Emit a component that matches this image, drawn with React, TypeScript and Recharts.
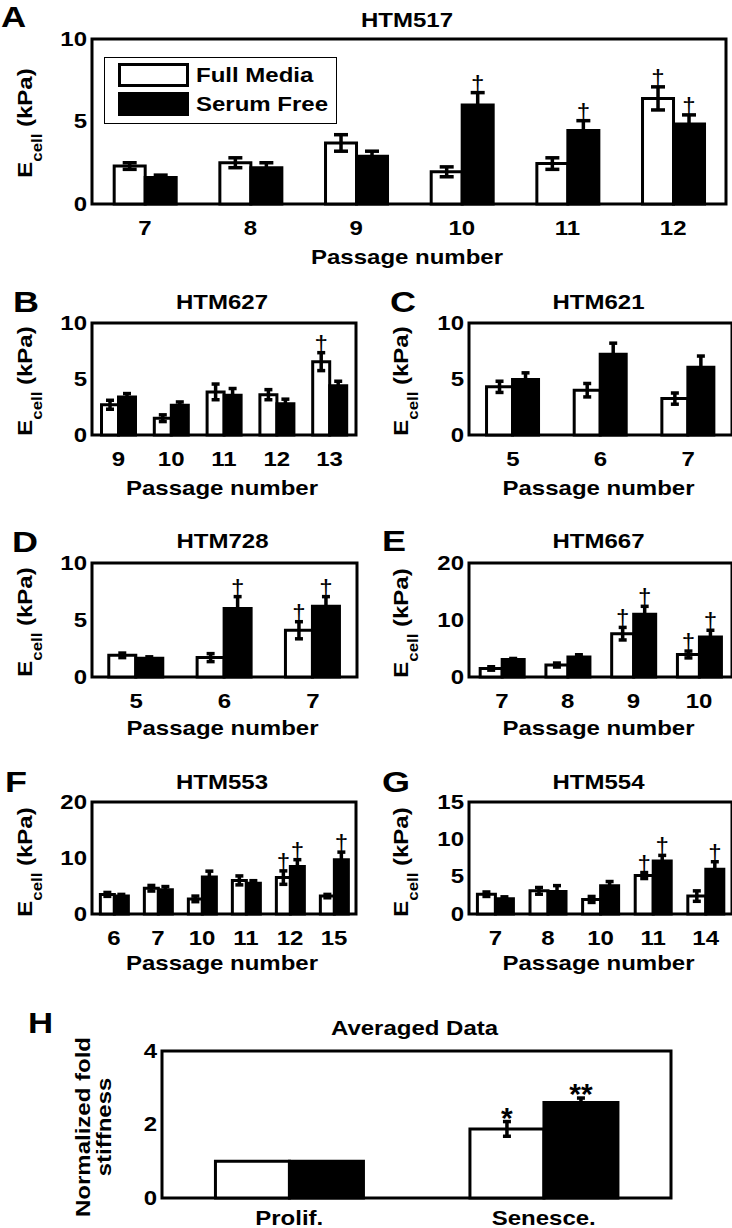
import { BarChart, Bar, XAxis, YAxis, ErrorBar, LabelList, Legend, ReferenceArea } from 'recharts';

const FONT = '"Liberation Sans", Arial, Helvetica, sans-serif';
const SX = 1.2; // the figure's lettering is a little wider than plain Arial

// A - HTM517
const aPassages = ['7', '8', '9', '10', '11', '12'];
const aFull = [2.3, 2.5, 3.7, 1.95, 2.45, 6.4];
const aFullErr = [0.2, 0.3, 0.5, 0.3, 0.35, 0.7];
const aSerum = [1.6, 2.2, 2.9, 6.0, 4.45, 4.85];
const aSerumErr = [0.15, 0.3, 0.3, 0.75, 0.6, 0.55];
const aFullMark = ['', '', '', '', '', '†'];
const aSerumMark = ['', '', '', '†', '†', '†'];

// B - HTM627
const bPassages = ['9', '10', '11', '12', '13'];
const bFull = [2.7, 1.5, 3.85, 3.6, 6.55];
const bFullErr = [0.4, 0.3, 0.7, 0.45, 0.8];
const bSerum = [3.4, 2.65, 3.55, 2.8, 4.4];
const bSerumErr = [0.3, 0.3, 0.6, 0.4, 0.4];
const bFullMark = ['', '', '', '', '†'];
const bSerumMark = ['', '', '', '', ''];

// C - HTM621
const cPassages = ['5', '6', '7'];
const cFull = [4.3, 4.0, 3.25];
const cFullErr = [0.5, 0.6, 0.5];
const cSerum = [4.95, 7.2, 6.05];
const cSerumErr = [0.6, 1.0, 1.0];
const cFullMark = ['', '', ''];
const cSerumMark = ['', '', ''];

// D - HTM728
const dPassages = ['5', '6', '7'];
const dFull = [1.9, 1.7, 4.1];
const dFullErr = [0.2, 0.35, 0.75];
const dSerum = [1.65, 6.0, 6.2];
const dSerumErr = [0.12, 1.05, 0.85];
const dFullMark = ['', '', '†'];
const dSerumMark = ['', '†', '†'];

// E - HTM667
const ePassages = ['7', '8', '9', '10'];
const eFull = [1.5, 2.1, 7.6, 3.95];
const eFullErr = [0.3, 0.35, 1.1, 0.6];
const eSerum = [3.05, 3.5, 11.0, 7.0];
const eSerumErr = [0.2, 0.4, 1.4, 1.2];
const eFullMark = ['', '', '†', '†'];
const eSerumMark = ['', '', '†', '†'];

// F - HTM553
const fPassages = ['6', '7', '10', '11', '12', '15'];
const fFull = [3.5, 4.6, 2.7, 6.0, 6.5, 3.2];
const fFullErr = [0.35, 0.5, 0.5, 0.8, 1.2, 0.3];
const fSerum = [3.2, 4.35, 6.6, 5.5, 8.5, 9.7];
const fSerumErr = [0.3, 0.55, 1.05, 0.45, 1.2, 1.35];
const fFullMark = ['', '', '', '', '†', ''];
const fSerumMark = ['', '', '', '', '†', '†'];

// G - HTM554
const gPassages = ['7', '8', '10', '11', '14'];
const gFull = [2.65, 3.1, 1.95, 5.15, 2.4];
const gFullErr = [0.3, 0.45, 0.4, 0.4, 0.7];
const gSerum = [2.05, 3.0, 3.8, 7.1, 6.0];
const gSerumErr = [0.25, 0.8, 0.55, 0.75, 1.0];
const gFullMark = ['', '', '', '†', ''];
const gSerumMark = ['', '', '', '†', '†'];

// H - averaged data
const hGroups = ['Prolif.', 'Senesce.'];
const hFull = [1.0, 1.88];
const hFullErr = [0, 0.2];
const hSerum = [1.0, 2.6];
const hSerumErr = [0, 0.12];
const hFullMark = ['', '*'];
const hSerumMark = ['', '**'];

type Box = { x: number; y: number; w: number; h: number };

// room around each plot box: left/bottom are taken by the axes themselves
const PAD = { top: 16, right: 8, bottom: 40, left: 50 };
const EDGE = 4; // size given to the inner-tick axes at top and right

const makeMark = (vals: number[], errs: number[]) => (p: any) => {
    const vb = p.viewBox || {};
    const x = p.x ?? vb.x;
    const y = p.y ?? vb.y;
    const w = p.width ?? vb.width;
    const h = p.height ?? vb.height;
    const i = p.index;
    const mark = p.value;
    if (!mark || i == null || !vals[i]) return null;
    const top = y - (errs[i] * h) / vals[i];
    const dagger = mark === '†';
    return (
        <text
            x={x + w / 2}
            y={dagger ? top - 1 : top + 6}
            textAnchor="middle"
            fontFamily={FONT}
            fontSize={dagger ? 24 : 30}
            fontWeight={dagger ? 'normal' : 'bold'}
            fill="#000"
        >
            {mark}
        </text>
    );
};

const LegendBox = ({ payload }: any) => (
    <div
        style={{
            width: 233,
            height: 67,
            border: '1px solid #000',
            background: '#fff',
            position: 'relative',
            boxSizing: 'border-box',
        }}
    >
        {(payload || []).map((e: any, i: number) => (
            <div
                key={i}
                style={{ position: 'absolute', left: 13, top: 5 + i * 29, display: 'flex', alignItems: 'center' }}
            >
                <div
                    style={{
                        width: 71,
                        height: 24,
                        boxSizing: 'border-box',
                        border: '3px solid #000',
                        background: e.payload?.fill ?? e.color,
                    }}
                />
                <span
                    style={{
                        marginLeft: 7,
                        font: `bold 20px ${FONT}`,
                        transform: `scaleX(${SX})`,
                        transformOrigin: 'left center',
                        display: 'inline-block',
                        whiteSpace: 'nowrap',
                    }}
                >
                    {e.value}
                </span>
            </div>
        ))}
    </div>
);

interface PanelProps {
    box: Box;
    cats: string[];
    full: number[];
    fullErr: number[];
    serum: number[];
    serumErr: number[];
    fullMark: string[];
    serumMark: string[];
    yMax: number;
    yTicks: number[];
    gap: string;
    cap: number;
    tickDy?: number;
    legend?: boolean;
}

function Panel({
    box,
    cats,
    full,
    fullErr,
    serum,
    serumErr,
    fullMark,
    serumMark,
    yMax,
    yTicks,
    gap,
    cap,
    tickDy = 24,
    legend = false,
}: PanelProps) {
    const data = cats.map((c, i) => ({
        c,
        fm: full[i],
        sf: serum[i],
        fmErr: fullErr[i],
        sfErr: serumErr[i],
        fmMark: fullMark[i],
        sfMark: serumMark[i],
    }));
    const bottom = PAD.top + box.h;

    const XTick = (p: any) => (
        <text
            transform={`translate(${p.x},${bottom + tickDy}) scale(${SX},1)`}
            textAnchor="middle"
            dominantBaseline="central"
            fontFamily={FONT}
            fontSize={20}
            fontWeight="bold"
            fill="#000"
        >
            {p.payload.value}
        </text>
    );
    const YTick = (p: any) => (
        <text
            transform={`translate(${PAD.left - 5},${p.y}) scale(${SX},1)`}
            textAnchor="end"
            dominantBaseline="central"
            fontFamily={FONT}
            fontSize={20}
            fontWeight="bold"
            fill="#000"
        >
            {p.payload.value}
        </text>
    );

    return (
        <div style={{ position: 'absolute', left: box.x - PAD.left, top: box.y - PAD.top }}>
            <BarChart
                width={box.w + PAD.left + PAD.right}
                height={box.h + PAD.top + PAD.bottom}
                data={data}
                margin={{ top: PAD.top - EDGE, right: PAD.right - EDGE, bottom: 0, left: 0 }}
                barGap={0}
                barCategoryGap={gap}
            >
                <XAxis
                    dataKey="c"
                    axisLine={false}
                    tickLine={false}
                    tick={XTick}
                    height={PAD.bottom}
                    interval={0}
                />
                <XAxis
                    xAxisId="top"
                    dataKey="c"
                    orientation="top"
                    axisLine={false}
                    tick={false}
                    tickLine={{ stroke: '#000', strokeWidth: 2 }}
                    tickSize={EDGE}
                    mirror
                    height={EDGE}
                    interval={0}
                />
                <YAxis
                    type="number"
                    domain={[0, yMax]}
                    ticks={yTicks}
                    axisLine={false}
                    tickLine={false}
                    tick={YTick}
                    width={PAD.left}
                    interval={0}
                />
                <YAxis
                    yAxisId="right"
                    type="number"
                    orientation="right"
                    domain={[0, yMax]}
                    ticks={yTicks}
                    axisLine={false}
                    tick={false}
                    tickLine={{ stroke: '#000', strokeWidth: 2 }}
                    tickSize={EDGE}
                    mirror
                    width={EDGE}
                    interval={0}
                />
                {legend && (
                    <Legend
                        layout="vertical"
                        align="center"
                        verticalAlign="middle"
                        wrapperStyle={{ left: PAD.left + 12, top: PAD.top + 14, width: 233, height: 67 }}
                        content={(p: any) => <LegendBox payload={p.payload} />}
                    />
                )}
                <Bar dataKey="fm" name="Full Media" fill="#fff" stroke="#000" strokeWidth={3} isAnimationActive={false}>
                    <ErrorBar dataKey="fmErr" width={cap} strokeWidth={3.5} stroke="#000" direction="y" isAnimationActive={false} />
                    <LabelList dataKey="fmMark" content={makeMark(full, fullErr)} />
                </Bar>
                <Bar dataKey="sf" name="Serum Free" fill="#000" stroke="#000" strokeWidth={3} isAnimationActive={false}>
                    <ErrorBar dataKey="sfErr" width={cap} strokeWidth={3.5} stroke="#000" direction="y" isAnimationActive={false} />
                    <LabelList dataKey="sfMark" content={makeMark(serum, serumErr)} />
                </Bar>
                {/* the closed plot frame */}
                <ReferenceArea y1={0} y2={yMax} fill="none" stroke="#000" strokeWidth={3} ifOverflow="visible" />
            </BarChart>
        </div>
    );
}

const Txt = ({ x, y, size = 20, anchor = 'middle', children }: any) => (
    <text
        transform={`translate(${x},${y}) scale(${SX},1)`}
        textAnchor={anchor}
        dominantBaseline="central"
        fontFamily={FONT}
        fontSize={size}
        fontWeight="bold"
        fill="#000"
    >
        {children}
    </text>
);

// rotated "E_cell (kPa)"; (x, y) is the centre of the main line
const ECell = ({ x, y }: { x: number; y: number }) => (
    <text
        transform={`translate(${x},${y}) rotate(-90) scale(${SX},1)`}
        x={0}
        y={7}
        textAnchor="middle"
        fontFamily={FONT}
        fontSize={20}
        fontWeight="bold"
        fill="#000"
    >
        E
        <tspan fontSize={14} dy={10}>
            cell
        </tspan>
        <tspan dy={-10}> (kPa)</tspan>
    </text>
);

const VTxt = ({ x, y, children }: any) => (
    <text
        transform={`translate(${x},${y}) rotate(-90) scale(${SX},1)`}
        x={0}
        y={7}
        textAnchor="middle"
        fontFamily={FONT}
        fontSize={20}
        fontWeight="bold"
        fill="#000"
    >
        {children}
    </text>
);

const BOX_A: Box = { x: 92, y: 43, w: 630, h: 161 };
const BOX_B: Box = { x: 92, y: 327, w: 260, h: 108 };
const BOX_C: Box = { x: 469, y: 327, w: 259, h: 108 };
const BOX_D: Box = { x: 92, y: 567, w: 261, h: 110 };
const BOX_E: Box = { x: 469, y: 567, w: 259, h: 110 };
const BOX_F: Box = { x: 92, y: 806, w: 260, h: 108 };
const BOX_G: Box = { x: 469, y: 806, w: 259, h: 108 };
const BOX_H: Box = { x: 162, y: 1055, w: 505, h: 143 };

const mid = (b: Box) => b.x + b.w / 2;

export default function App() {
    return (
        <div
            style={{
                position: 'absolute',
                left: 0,
                top: 0,
                width: 732,
                height: 1228,
                background: '#fff',
                overflow: 'hidden',
            }}
        >
            <Panel box={BOX_A} cats={aPassages} full={aFull} fullErr={aFullErr} serum={aSerum} serumErr={aSerumErr}
                fullMark={aFullMark} serumMark={aSerumMark} yMax={10} yTicks={[0, 5, 10]} gap="21%" cap={7} legend />
            <Panel box={BOX_B} cats={bPassages} full={bFull} fullErr={bFullErr} serum={bSerum} serumErr={bSerumErr}
                fullMark={bFullMark} serumMark={bSerumMark} yMax={10} yTicks={[0, 5, 10]} gap="18%" cap={4} />
            <Panel box={BOX_C} cats={cPassages} full={cFull} fullErr={cFullErr} serum={cSerum} serumErr={cSerumErr}
                fullMark={cFullMark} serumMark={cSerumMark} yMax={10} yTicks={[0, 5, 10]} gap="20%" cap={4} />
            <Panel box={BOX_D} cats={dPassages} full={dFull} fullErr={dFullErr} serum={dSerum} serumErr={dSerumErr}
                fullMark={dFullMark} serumMark={dSerumMark} yMax={10} yTicks={[0, 5, 10]} gap="19%" cap={4} />
            <Panel box={BOX_E} cats={ePassages} full={eFull} fullErr={eFullErr} serum={eSerum} serumErr={eSerumErr}
                fullMark={eFullMark} serumMark={eSerumMark} yMax={20} yTicks={[0, 10, 20]} gap="17%" cap={4} />
            <Panel box={BOX_F} cats={fPassages} full={fFull} fullErr={fFullErr} serum={fSerum} serumErr={fSerumErr}
                fullMark={fFullMark} serumMark={fSerumMark} yMax={20} yTicks={[0, 10, 20]} gap="19%" cap={4} />
            <Panel box={BOX_G} cats={gPassages} full={gFull} fullErr={gFullErr} serum={gSerum} serumErr={gSerumErr}
                fullMark={gFullMark} serumMark={gSerumMark} yMax={15} yTicks={[0, 5, 10, 15]} gap="16%" cap={4} />
            <Panel box={BOX_H} cats={hGroups} full={hFull} fullErr={hFullErr} serum={hSerum} serumErr={hSerumErr}
                fullMark={hFullMark} serumMark={hSerumMark} yMax={4} yTicks={[0, 2, 4]} gap="21%" cap={4} tickDy={20} />

            <svg
                width={732}
                height={1228}
                style={{ position: 'absolute', left: 0, top: 0, pointerEvents: 'none' }}
            >
                {/* panel letters */}
                <Txt x={1} y={17} size={29} anchor="start">A</Txt>
                <Txt x={13} y={302} size={30} anchor="start">B</Txt>
                <Txt x={390} y={302} size={30} anchor="start">C</Txt>
                <Txt x={12} y={542} size={30} anchor="start">D</Txt>
                <Txt x={382} y={541} size={30} anchor="start">E</Txt>
                <Txt x={5} y={782} size={30} anchor="start">F</Txt>
                <Txt x={382} y={782} size={30} anchor="start">G</Txt>
                <Txt x={28} y={1023} size={29} anchor="start">H</Txt>

                {/* titles */}
                <Txt x={mid(BOX_A)} y={20}>HTM517</Txt>
                <Txt x={mid(BOX_B)} y={302}>HTM627</Txt>
                <Txt x={mid(BOX_C)} y={302}>HTM621</Txt>
                <Txt x={mid(BOX_D)} y={541}>HTM728</Txt>
                <Txt x={mid(BOX_E)} y={541}>HTM667</Txt>
                <Txt x={mid(BOX_F)} y={782}>HTM553</Txt>
                <Txt x={mid(BOX_G)} y={782}>HTM554</Txt>
                <Txt x={mid(BOX_H)} y={1028}>Averaged Data</Txt>

                {/* x axis labels */}
                <Txt x={mid(BOX_A)} y={257}>Passage number</Txt>
                <Txt x={mid(BOX_B)} y={488}>Passage number</Txt>
                <Txt x={mid(BOX_C)} y={488}>Passage number</Txt>
                <Txt x={mid(BOX_D)} y={728}>Passage number</Txt>
                <Txt x={mid(BOX_E)} y={728}>Passage number</Txt>
                <Txt x={mid(BOX_F)} y={963}>Passage number</Txt>
                <Txt x={mid(BOX_G)} y={963}>Passage number</Txt>

                {/* y axis labels */}
                <ECell x={25} y={123} />
                <ECell x={25} y={381} />
                <ECell x={401} y={381} />
                <ECell x={25} y={622} />
                <ECell x={401} y={623} />
                <ECell x={25} y={862} />
                <ECell x={401} y={862} />
                <VTxt x={83} y={1127}>Normalized fold</VTxt>
                <VTxt x={104} y={1127}>stiffness</VTxt>
            </svg>
        </div>
    );
}
